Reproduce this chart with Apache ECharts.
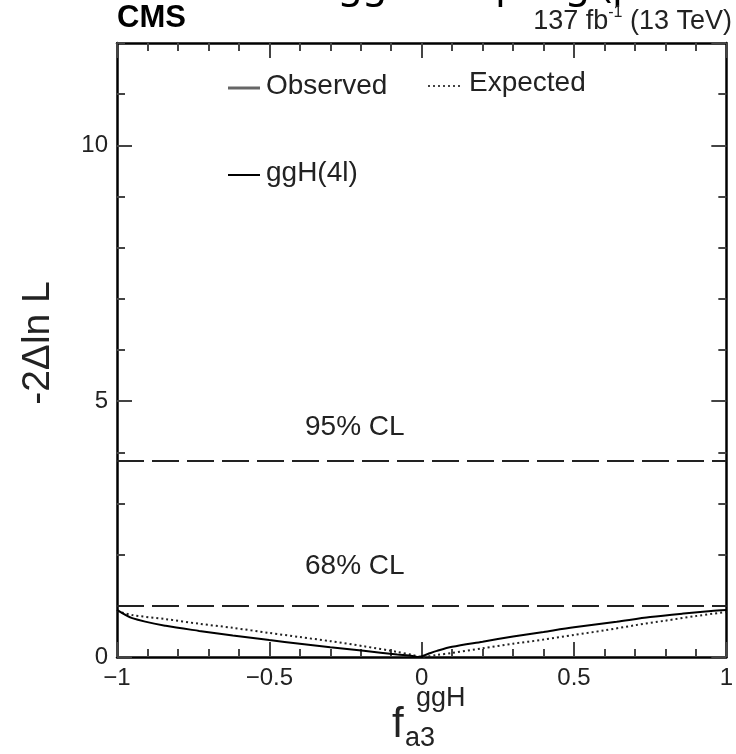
<!DOCTYPE html>
<html>
<head>
<meta charset="utf-8" />
<script src="https://cdn.jsdelivr.net/npm/echarts@6/dist/echarts.min.js"></script>
<style>
  html, body { margin: 0; padding: 0; background: #fff; }
  #chart { width: 736px; height: 754px; }
</style>
</head>
<body>
<div id="chart"></div>
<script>
// f_a3 scan points and -2 delta ln L
const fa3Obs = [-1, -0.95, -0.84, -0.73, -0.62, -0.5, -0.4, -0.3, -0.19, -0.08, -0.03, -0.01, 0.02, 0.05, 0.1, 0.2, 0.3, 0.4, 0.5, 0.64, 0.75, 0.86, 0.95, 1];
const obsValues = [0.92, 0.76, 0.61, 0.51, 0.42, 0.33, 0.26, 0.19, 0.12, 0.05, 0.02, 0, 0.06, 0.12, 0.2, 0.3, 0.4, 0.49, 0.58, 0.69, 0.78, 0.85, 0.9, 0.92];

const fa3Exp = [-1, -0.95, -0.84, -0.73, -0.62, -0.5, -0.4, -0.3, -0.19, -0.08, -0.03, 0, 0.05, 0.1, 0.2, 0.3, 0.4, 0.5, 0.6, 0.7, 0.8, 0.9, 1];
const expValues = [0.9, 0.82, 0.74, 0.65, 0.57, 0.47, 0.39, 0.31, 0.21, 0.1, 0.04, 0, 0.04, 0.08, 0.17, 0.26, 0.34, 0.43, 0.52, 0.62, 0.71, 0.8, 0.88];

const clLevels = [1.0, 3.84];
const clLabels = ["68% CL", "95% CL"];

const xTicks = { min: -1, max: 1, major: 0.5, minor: 0.1 };
const yTicks = { min: 0, max: 12, major: 5, minor: 1 };

const FONT = "'Liberation Sans', Arial, sans-serif";

function xAxis(position, interval, len, labels) {
  return {
    type: "value",
    position,
    min: xTicks.min,
    max: xTicks.max,
    interval,
    axisLine: { show: labels !== null, onZero: false, lineStyle: { color: "#000", width: 2.5 } },
    axisTick: { show: true, inside: true, length: len, lineStyle: { color: "#444", width: 2 } },
    axisLabel: labels
      ? {
          show: true,
          margin: 9,
          fontFamily: FONT,
          fontSize: 24,
          color: "#222",
          formatter: (v) => String(v).replace("-", "\u2212"),
        }
      : { show: false },
    splitLine: { show: false },
  };
}

function yAxis(position, interval, len, labels) {
  return {
    type: "value",
    position,
    min: yTicks.min,
    max: yTicks.max,
    interval,
    axisLine: { show: labels !== null, onZero: false, lineStyle: { color: "#000", width: 2.5 } },
    axisTick: { show: true, inside: true, length: len, lineStyle: { color: "#444", width: 2 } },
    axisLabel: labels
      ? {
          show: true,
          margin: 9,
          fontFamily: FONT,
          fontSize: 24,
          color: "#222",
          showMaxLabel: false,
        }
      : { show: false },
    splitLine: { show: false },
  };
}

const chart = echarts.init(document.getElementById("chart"), null, { renderer: "canvas" });

chart.setOption({
  animation: false,
  backgroundColor: "#fff",
  grid: { left: 117, right: 6, top: 43, bottom: 97, containLabel: false },
  xAxis: [
    xAxis("bottom", xTicks.major, 15, true),
    xAxis("bottom", xTicks.minor, 8, null),
    xAxis("top", xTicks.major, 15, false),
    xAxis("top", xTicks.minor, 8, null),
  ],
  yAxis: [
    yAxis("left", yTicks.major, 15, true),
    yAxis("left", yTicks.minor, 8, null),
    yAxis("right", yTicks.major, 15, false),
    yAxis("right", yTicks.minor, 8, null),
  ],
  series: [
    {
      name: "Observed",
      type: "line",
      xAxisIndex: 0,
      yAxisIndex: 0,
      showSymbol: false,
      smooth: 0.3,
      data: fa3Obs.map((x, i) => [x, obsValues[i]]),
      lineStyle: { color: "#000", width: 2 },
      markLine: {
        silent: true,
        symbol: "none",
        label: { show: false },
        lineStyle: { color: "#222", width: 2, type: [27, 8] },
        data: clLevels.map((v) => ({ yAxis: v })),
      },
      z: 3,
    },
    {
      name: "Expected",
      type: "line",
      xAxisIndex: 0,
      yAxisIndex: 0,
      showSymbol: false,
      smooth: 0.3,
      data: fa3Exp.map((x, i) => [x, expValues[i]]),
      lineStyle: { color: "#222", width: 2, type: [2, 3] },
      z: 2,
    },
  ],
  graphic: [
    // cut-off title above the frame
    {
      type: "text", left: 338, top: -34,
      style: { text: "ggH coupling (p", font: "40px 'Noto Sans'", fill: "#000" },
    },
    {
      type: "text", left: 117, top: 3,
      style: { text: "CMS", font: "bold 31px " + FONT, fill: "#000" },
    },
    {
      type: "text", right: 4, top: 5,
      style: {
        text: "{n|137 fb}{s|-1}{n| (13 TeV)}",
        align: "right",
        rich: {
          n: { fontFamily: FONT, fontSize: 27, fill: "#222", verticalAlign: "bottom", lineHeight: 30 },
          s: { fontFamily: FONT, fontSize: 16, fill: "#222", verticalAlign: "top", lineHeight: 30, padding: [0, 0, 12, 0] },
        },
      },
    },
    // legend
    { type: "line", shape: { x1: 228, y1: 88, x2: 260, y2: 88 }, style: { stroke: "#666", lineWidth: 3 } },
    { type: "text", left: 266, top: 72, style: { text: "Observed", font: "28px " + FONT, fill: "#222" } },
    { type: "line", shape: { x1: 428, y1: 86, x2: 462, y2: 86 }, style: { stroke: "#444", lineWidth: 2, lineDash: [2, 3] } },
    { type: "text", left: 469, top: 69, style: { text: "Expected", font: "28px " + FONT, fill: "#222" } },
    { type: "line", shape: { x1: 228, y1: 175, x2: 260, y2: 175 }, style: { stroke: "#000", lineWidth: 2 } },
    { type: "text", left: 266, top: 159, style: { text: "ggH(4l)", font: "28px " + FONT, fill: "#222" } },
    // CL labels
    { type: "text", left: 305, top: 413, style: { text: clLabels[1], font: "28px " + FONT, fill: "#222" } },
    { type: "text", left: 305, top: 552, style: { text: clLabels[0], font: "28px " + FONT, fill: "#222" } },
    // y axis title
    {
      type: "text", x: 38, y: 343, rotation: Math.PI / 2,
      style: { text: "-2\u0394ln L", font: "39px " + FONT, fill: "#222", align: "center", verticalAlign: "middle" },
    },
    // x axis title f_a3^ggH
    { type: "text", left: 392, top: 704, style: { text: "f", font: "42px " + FONT, fill: "#222" } },
    { type: "text", left: 416, top: 685, style: { text: "ggH", font: "27px " + FONT, fill: "#222" } },
    { type: "text", left: 405, top: 725, style: { text: "a3", font: "27px " + FONT, fill: "#222" } },
  ],
});
</script>
</body>
</html>
